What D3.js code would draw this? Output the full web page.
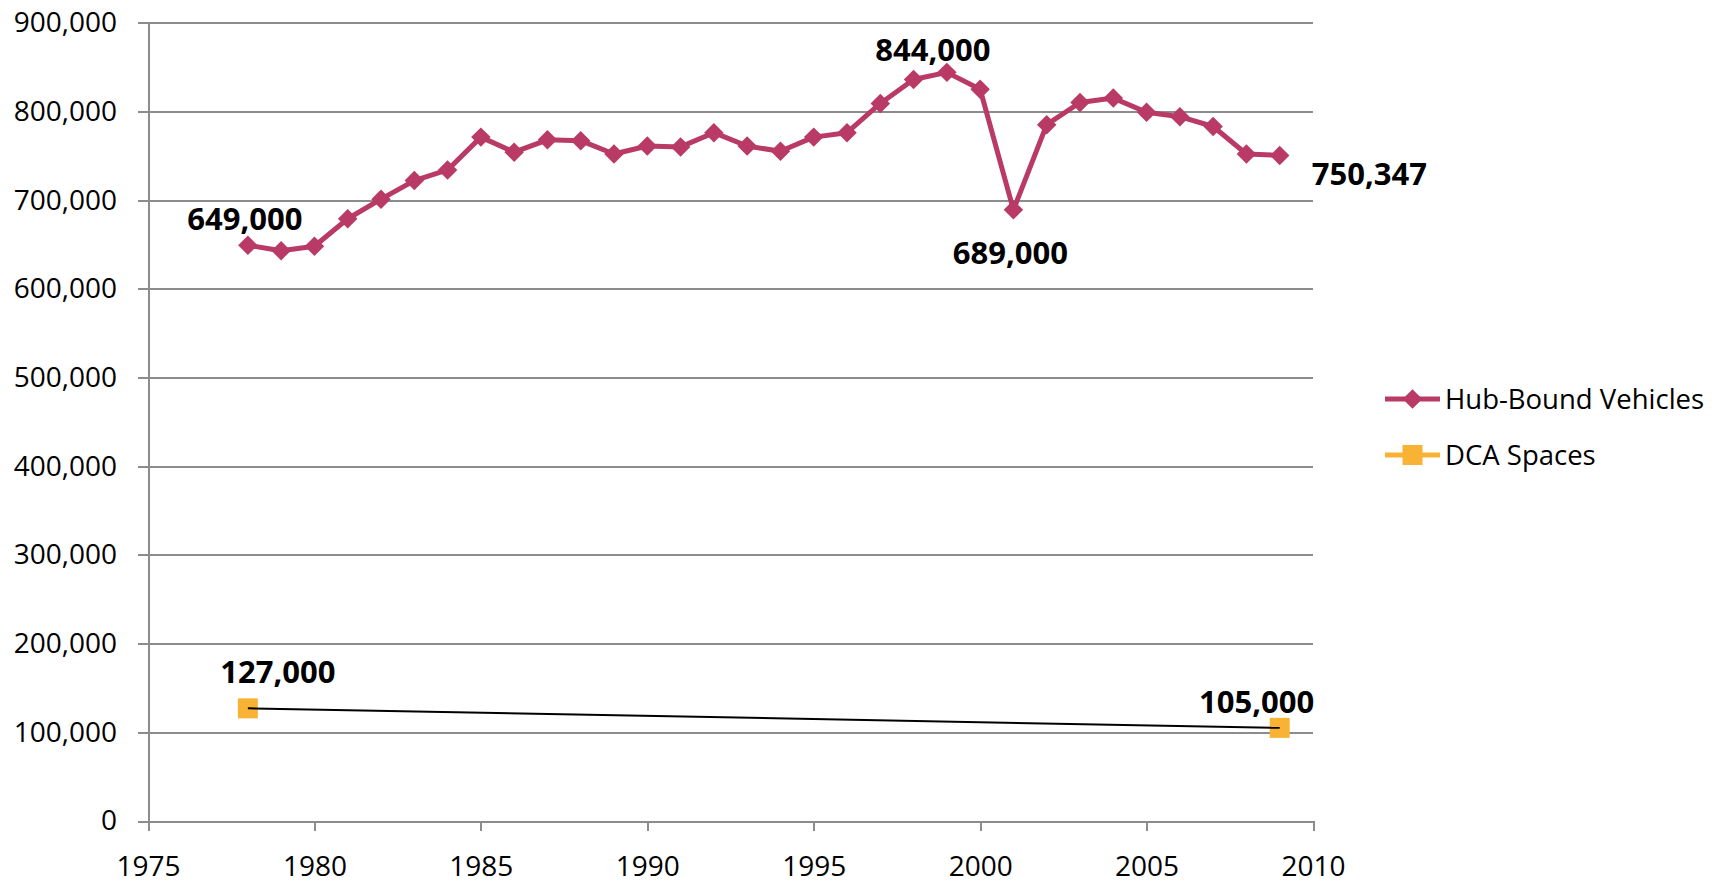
<!DOCTYPE html>
<html lang="en-us">
<head>
<meta charset="utf-8">
<title>Hub-Bound Vehicles and DCA Spaces</title>
<script src="https://cdn.jsdelivr.net/npm/d3@7"></script>
<style type="text/css">
	body { margin: 0; background: #fff; }
	svg { display: block; font-family: "Open Sans", "Noto Sans", sans-serif; }
	.axis text { font-family: "Open Sans", "Noto Sans", sans-serif; font-size: 28px; fill: #000; }
	.axis path, .axis line { stroke: #8c8c8c; stroke-width: 2; shape-rendering: crispEdges; }
	.grid line { stroke: #8c8c8c; stroke-width: 2; shape-rendering: crispEdges; }
	.grid path { display: none; }
	.label { font-size: 31px; font-weight: bold; fill: #000; }
	.legend { font-size: 27.5px; fill: #000; }
</style>
</head>
<body>
<svg width="1720" height="885"></svg>
<script>
// data
var hubYears = [1978, 1979, 1980, 1981, 1982, 1983, 1984, 1985, 1986, 1987, 1988, 1989, 1990, 1991, 1992, 1993,
	1994, 1995, 1996, 1997, 1998, 1999, 2000, 2001, 2002, 2003, 2004, 2005, 2006, 2007, 2008, 2009];
var hubVehicles = [649000, 643000, 648000, 679000, 701000, 722000, 734000, 771000, 754000, 768000, 767000, 752000,
	761000, 760000, 776000, 761000, 755000, 771000, 776000, 809000, 836000, 844000, 825000, 689000,
	785000, 810000, 815000, 799000, 794000, 783000, 752000, 750347];
var dcaYears = [1978, 2009];
var dcaSpaces = [127000, 105000];
var xTicks = [1975, 1980, 1985, 1990, 1995, 2000, 2005, 2010];
var yTicks = [0, 100000, 200000, 300000, 400000, 500000, 600000, 700000, 800000, 900000];
var seriesNames = ["Hub-Bound Vehicles", "DCA Spaces"];

var colorHub = "#B93A65";
var colorDca = "#F9B334";

var svg = d3.select("svg"),
	margin = {top: 22.7, right: 407, bottom: 64, left: 148},
	width = svg.attr("width") - margin.left - margin.right,
	height = svg.attr("height") - margin.top - margin.bottom,
	g = svg.append("g").attr("transform", "translate(" + margin.left + "," + margin.top + ")");

var x = d3.scaleLinear().domain([1975, 2010]).range([0, width]);
var y = d3.scaleLinear().domain([0, 900000]).range([height, 0]);

// gridlines
g.append("g")
	.attr("class", "grid")
	.call(d3.axisLeft(y).tickValues(yTicks.slice(1)).tickSize(-width).tickFormat(""));

// y axis
g.append("g")
	.attr("class", "axis axis--y")
	.call(d3.axisLeft(y).tickValues(yTicks).tickSize(10).tickSizeOuter(0).tickPadding(21)
		.tickFormat(d3.format(",")));

// x axis
g.append("g")
	.attr("class", "axis axis--x")
	.attr("transform", "translate(0," + height + ")")
	.call(d3.axisBottom(x).tickValues(xTicks).tickSize(10).tickSizeOuter(0).tickPadding(25)
		.tickFormat(d3.format("d")));

var hubData = hubYears.map(function(yr, i) { return {year: yr, value: hubVehicles[i]}; });
var dcaData = dcaYears.map(function(yr, i) { return {year: yr, value: dcaSpaces[i]}; });

var line = d3.line()
	.x(function(d) { return x(d.year); })
	.y(function(d) { return y(d.value); });

var diamond = d3.symbol().type(d3.symbolSquare).size(190);

// Hub-Bound line
g.append("path")
	.datum(hubData)
	.attr("fill", "none")
	.attr("stroke", colorHub)
	.attr("stroke-width", 5)
	.attr("stroke-linejoin", "round")
	.attr("d", line);

g.selectAll(".hubPoint")
	.data(hubData)
	.enter().append("path")
	.attr("class", "hubPoint")
	.attr("fill", colorHub)
	.attr("transform", function(d) { return "translate(" + x(d.year) + "," + y(d.value) + ") rotate(45)"; })
	.attr("d", diamond);

// DCA spaces: orange squares with a thin black connector on top
g.selectAll(".dcaPoint")
	.data(dcaData)
	.enter().append("rect")
	.attr("class", "dcaPoint")
	.attr("fill", colorDca)
	.attr("x", function(d) { return x(d.year) - 10; })
	.attr("y", function(d) { return y(d.value) - 10; })
	.attr("width", 20)
	.attr("height", 20);

g.append("path")
	.datum(dcaData)
	.attr("fill", "none")
	.attr("stroke", "#000")
	.attr("stroke-width", 2)
	.attr("d", line);

// data labels
var labels = [
	{d: hubData[0], dx: -3, dy: -15, anchor: "middle"},
	{d: hubData[21], dx: -14, dy: -11, anchor: "middle"},
	{d: hubData[23], dx: -3, dy: 54, anchor: "middle"},
	{d: hubData[31], dx: 32, dy: 30, anchor: "start"},
	{d: dcaData[0], dx: 30, dy: -25, anchor: "middle"},
	{d: dcaData[1], dx: -23, dy: -15, anchor: "middle"}
];

g.selectAll(".label")
	.data(labels)
	.enter().append("text")
	.attr("class", "label")
	.attr("x", function(l) { return x(l.d.year) + l.dx; })
	.attr("y", function(l) { return y(l.d.value) + l.dy; })
	.style("text-anchor", function(l) { return l.anchor; })
	.text(function(l) { return d3.format(",")(l.d.value); });

// legend
var legend = svg.append("g").attr("transform", "translate(1385,399)");

legend.append("line")
	.attr("x1", 0).attr("x2", 55).attr("y1", 0).attr("y2", 0)
	.attr("stroke", colorHub).attr("stroke-width", 5);
legend.append("path")
	.attr("fill", colorHub)
	.attr("transform", "translate(27.5,0) rotate(45)")
	.attr("d", diamond);
legend.append("text")
	.attr("class", "legend")
	.attr("x", 60).attr("y", 0).attr("dy", "0.35em")
	.text(seriesNames[0]);

legend.append("line")
	.attr("x1", 0).attr("x2", 55).attr("y1", 56).attr("y2", 56)
	.attr("stroke", colorDca).attr("stroke-width", 5);
legend.append("rect")
	.attr("fill", colorDca)
	.attr("x", 17.5).attr("y", 46).attr("width", 20).attr("height", 20);
legend.append("text")
	.attr("class", "legend")
	.attr("x", 60).attr("y", 56).attr("dy", "0.35em")
	.text(seriesNames[1]);
</script>
</body>
</html>
